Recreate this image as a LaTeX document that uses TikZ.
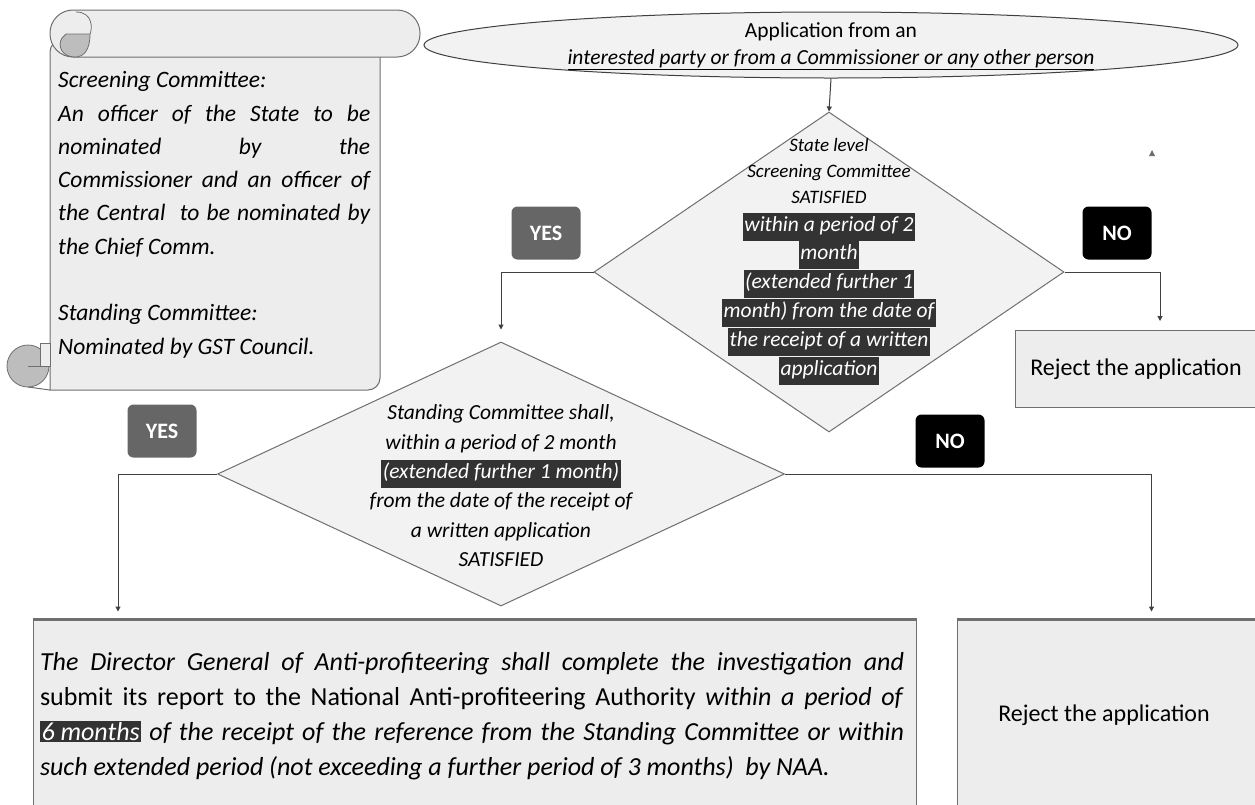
\documentclass[tikz,border=0pt]{standalone}
\usepackage{fontspec}
\setmainfont{Carlito}
\usetikzlibrary{shapes.geometric,arrows.meta,calc}
\definecolor{edge}{HTML}{6F6F6F}
\definecolor{boxfill}{HTML}{EDEDED}
\definecolor{dfill}{HTML}{F2F2F2}
\definecolor{hl}{HTML}{333333}
\definecolor{yesfill}{HTML}{666666}
\definecolor{curl}{HTML}{BDBDBD}
\definecolor{conn}{HTML}{404040}
\newcommand\hlbox[1]{{\setlength{\fboxsep}{1.5pt}\colorbox{hl}{\color{white}#1}}}
\begin{document}
\begin{tikzpicture}[x=1pt,y=-1pt,
  every node/.style={inner sep=0pt},
  box/.style={draw=edge, fill=boxfill, line width=1pt},
  scroll/.style={draw=edge, fill=boxfill, line width=1pt},
  arr/.style={draw=conn, line width=1pt, -{Triangle[length=5pt,width=5pt]}},
  tag/.style={rounded corners=6pt, minimum width=69pt, minimum height=53pt, text=white, font=\fontsize{22}{24}\selectfont\bfseries},
  yestag/.style={tag, fill=yesfill},
  notag/.style={tag, fill=black},
  stext/.style={anchor=base west, font=\fontsize{23.5}{26}\selectfont\itshape},
  dline/.style={font=\fontsize{19}{21}\selectfont\itshape, inner xsep=1.5pt, text height=13pt, text depth=4pt, minimum height=28.5pt},
  hline/.style={dline, font=\fontsize{21.5}{23}\selectfont\itshape, fill=hl, text=white},
  dline2/.style={dline, font=\fontsize{21.5}{23}\selectfont\itshape},
]
\useasboundingbox (0,0) rectangle (1255,804);
\fill[white] (0,0) rectangle (1255,804);

% scroll
\filldraw[scroll] (50,40) -- (50,390) [rounded corners=12pt] -- (380,390) -- (380,40) -- cycle;
\filldraw[scroll, rounded corners=23pt] (50,10) rectangle (420,57);
\filldraw[draw=edge, fill=curl, line width=0.8pt] (66,34) -- (90,34) .. controls (90,50) and (84,57) .. (75,57) .. controls (62,57) and (57,46) .. (62,38) -- cycle;
\draw[edge, line width=0.8pt] (76,12) .. controls (94,12) and (92,30) .. (90,34);
\filldraw[draw=edge, fill=curl, line width=0.8pt] (28,366) circle[radius=21pt];
\filldraw[draw=edge, fill=boxfill, line width=0.8pt] (40,343) rectangle (50,366);
\draw[edge, line width=0.8pt] (28,366) -- (50,366);
\draw[edge, line width=1pt] (28,387) -- (50,390);

\node[stext] (s1) at (58,87) {Screening Committee:};
\node[stext] (s2) at (58,121) {\makebox[312pt][s]{An officer of the State to be}};
\node[stext] (s3) at (58,154) {\makebox[312pt][s]{nominated by the}};
\node[stext] (s4) at (58,187) {\makebox[312pt][s]{Commissioner and an officer of}};
\node[stext] (s5) at (58,220) {\makebox[312pt][s]{the Central \ to be nominated by}};
\node[stext] (s6) at (58,254) {the Chief Comm.};
\node[stext] (s7) at (58,320) {Standing Committee:};
\node[stext] (s8) at (58,354) {Nominated by GST Council.};

% top ellipse
\node[ellipse, draw=conn, fill=dfill, line width=1pt, minimum width=814pt, minimum height=66pt] (app) at (831,45) {};
\node[font=\fontsize{21.5}{23}\selectfont] (appt1) at (831,32) {Application from an};
\node[font=\fontsize{21.5}{23}\selectfont\itshape] (appt2) at (831,60) {\underline{interested party or from a Commissioner or any other person}};

% diamond 1
\node[diamond, draw=edge, fill=dfill, line width=1pt, minimum width=470pt, minimum height=320pt] (d1) at (829,272) {};
\node[dline] (d1t1) at (829,147) {State level};
\node[dline] (d1t2) at (829,173) {Screening Committee};
\node[dline] (d1t3) at (829,199) {SATISFIED};
\node[hline] (d1t4) at (829,227) {within a period of 2};
\node[hline] (d1t5) at (829,255) {month};
\node[hline] (d1t6) at (829,284) {(extended further 1};
\node[hline] (d1t7) at (829,313) {month) from the date of};
\node[hline] (d1t8) at (829,342) {the receipt of a written};
\node[hline] (d1t9) at (829,371) {application};

% diamond 2
\node[diamond, draw=edge, fill=dfill, line width=1pt, minimum width=567pt, minimum height=264pt] (d2) at (501,474) {};
\node[dline2] (d2t1) at (501,415) {Standing Committee shall,};
\node[dline2] (d2t2) at (501,445) {within a period of 2 month};
\node[hline] (d2t3) at (501,474) {(extended further 1 month)};
\node[dline2] (d2t4) at (501,503) {from the date of the receipt of};
\node[dline2] (d2t5) at (501,533) {a written application};
\node[dline2] (d2t6) at (501,562) {SATISFIED};

% tags
\node[yestag] (yes1) at (546,233) {YES};
\node[notag] (no1) at (1117,233) {NO};
\node[yestag] (yes2) at (162,431) {YES};
\node[notag] (no2) at (950,441) {NO};

% result boxes
\node[box, minimum width=242pt, minimum height=77pt, font=\fontsize{24}{26}\selectfont] (rej1) at (1136,369) {Reject the application};
\node[box, minimum width=883pt, minimum height=190pt] (dg) at (474.5,715) {};
\node[box, minimum width=305pt, minimum height=190pt] (rej2) at (1109.5,715) {};
\draw[edge, line width=2.5pt] (dg.north west) -- (dg.north east);
\draw[edge, line width=2.5pt] (rej2.north west) -- (rej2.north east);
\node[font=\fontsize{24}{26}\selectfont] (rej2t) at (1104,715) {Reject the application};
\node[font=\fontsize{26}{35}\selectfont, align=left] (dgt) at (472,716) {%
\makebox[864pt][s]{\itshape The Director General of Anti-profiteering shall complete the investigation and}\\
\makebox[864pt][s]{submit its report to the National Anti-profiteering Authority \textit{within a period of}}\\
\makebox[864pt][s]{\hlbox{\textit{6 months}} \textit{of the receipt of the reference from the Standing Committee or within}}\\
\textit{such extended period (not exceeding a further period of 3 months) \ by NAA.}};

% connectors
\draw[arr] (app.south) -- (d1.north);
\draw[arr, shorten >=12pt] (d1.west) -| (d2.north);
\draw[arr, shorten >=9pt] (d1.east) -| ([xshift=24pt]rej1.north);
\draw[arr, shorten >=8pt] (d2.west) -| ([xshift=85.5pt]dg.north west);
\draw[arr, shorten >=8pt] (d2.east) -| ([xshift=195pt]rej2.north west);

% small marker
\fill[edge] (1149,156) -- (1155,156) -- (1152,150) -- cycle;
\end{tikzpicture}
\end{document}
